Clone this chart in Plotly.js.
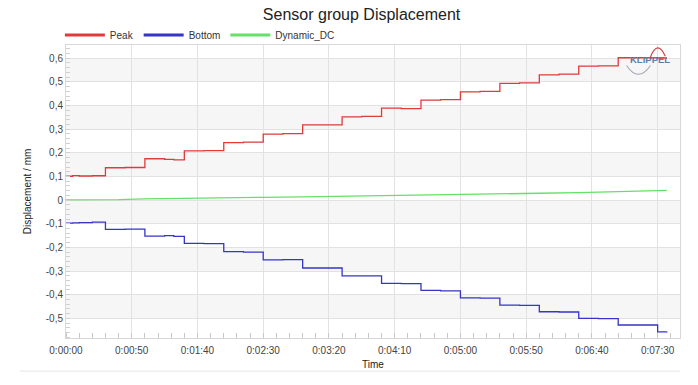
<!DOCTYPE html>
<html>
<head>
<meta charset="utf-8">
<script src="https://cdn.plot.ly/plotly-3.0.1.min.js"></script>
<style>html,body{margin:0;padding:0;background:#fff;}#chart{width:698px;height:385px;}</style>
</head>
<body>
<div id="chart"></div>
<script>
// ---- data (time in seconds, displacement in mm) ----
var stepTime = [0, 5, 10, 20, 30, 45, 60, 75, 82, 90, 105, 120, 135, 150, 165, 180, 195, 210, 225, 240, 255, 270, 285, 300, 315, 330, 345, 360, 375, 390, 405, 420, 435, 450, 457];
var peakValues = [0.101, 0.104, 0.102, 0.103, 0.137, 0.138, 0.175, 0.172, 0.170, 0.208, 0.209, 0.243, 0.245, 0.279, 0.281, 0.318, 0.318, 0.352, 0.354, 0.389, 0.387, 0.423, 0.425, 0.458, 0.460, 0.494, 0.496, 0.530, 0.533, 0.567, 0.568, 0.602, 0.602, 0.601, 0.601];
var bottomValues = [-0.097, -0.096, -0.095, -0.093, -0.124, -0.123, -0.152, -0.150, -0.153, -0.183, -0.184, -0.218, -0.220, -0.253, -0.252, -0.287, -0.287, -0.320, -0.320, -0.352, -0.353, -0.382, -0.384, -0.413, -0.414, -0.444, -0.445, -0.472, -0.473, -0.500, -0.501, -0.528, -0.528, -0.557, -0.556];
var dcTime = [0, 20, 40, 60, 80, 100, 120, 150, 180, 210, 240, 270, 300, 330, 360, 390, 420, 450, 457];
var dcValues = [0.001, 0.000, 0.002, 0.005, 0.007, 0.010, 0.011, 0.012, 0.014, 0.016, 0.018, 0.020, 0.023, 0.026, 0.029, 0.032, 0.035, 0.038, 0.041];

var seriesNames = ['Peak', 'Bottom', 'Dynamic_DC'];
var seriesColors = ['#e03a3a', '#3535c8', '#66e066'];

var xTickVals = [0, 50, 100, 150, 200, 250, 300, 350, 400, 450];
var xTickText = ['0:00:00', '0:00:50', '0:01:40', '0:02:30', '0:03:20', '0:04:10', '0:05:00', '0:05:50', '0:06:40', '0:07:30'];
var yTickVals = [-0.5, -0.4, -0.3, -0.2, -0.1, 0, 0.1, 0.2, 0.3, 0.4, 0.5, 0.6];
var yTickText = ['-0,5', '-0,4', '-0,3', '-0,2', '-0,1', '0', '0,1', '0,2', '0,3', '0,4', '0,5', '0,6'];
var shadedBands = [[0.5, 0.6], [0.3, 0.4], [0.1, 0.2], [-0.1, 0], [-0.3, -0.2], [-0.5, -0.4]];

var traces = [
  {x: stepTime, y: peakValues, name: seriesNames[0], legendgroup: 'g0', showlegend: false, type: 'scatter', mode: 'lines',
   line: {color: seriesColors[0], width: 1.3, shape: 'hv'}},
  {x: stepTime, y: bottomValues, name: seriesNames[1], legendgroup: 'g1', showlegend: false, type: 'scatter', mode: 'lines',
   line: {color: seriesColors[1], width: 1.3, shape: 'hv'}},
  {x: dcTime, y: dcValues, name: seriesNames[2], legendgroup: 'g2', showlegend: false, type: 'scatter', mode: 'lines',
   line: {color: seriesColors[2], width: 1.3}}
];
// legend entries (thicker sample lines, no data)
seriesNames.forEach(function (n, i) {
  traces.push({x: [null], y: [null], name: n, legendgroup: 'g' + i, showlegend: true, type: 'scatter', mode: 'lines',
               line: {color: seriesColors[i], width: 3}});
});

var shapes = shadedBands.map(function (b) {
  return {type: 'rect', xref: 'paper', yref: 'y', x0: 0, x1: 1, y0: b[0], y1: b[1],
          fillcolor: '#f6f6f6', line: {width: 0}, layer: 'below'};
});
shapes.push({type: 'line', xref: 'paper', yref: 'paper', x0: -0.075, x1: 1, y0: -0.113, y1: -0.113,
             line: {color: '#e6e6e6', width: 1}});
// KLIPPEL logo arcs
shapes.push({type: 'path', xref: 'paper', yref: 'paper',
             path: 'M 0.951 0.955 Q 0.963 1.022 0.976 0.962', line: {color: '#d04545', width: 1.2}});
shapes.push({type: 'path', xref: 'paper', yref: 'paper',
             path: 'M 0.913 0.93 Q 0.932 0.87 0.952 0.93', line: {color: '#a0a8b2', width: 1.1}});

var layout = {
  width: 698, height: 385,
  margin: {l: 66, r: 18, t: 45, b: 47},
  paper_bgcolor: '#ffffff', plot_bgcolor: '#ffffff',
  font: {family: 'Liberation Sans, Arial, sans-serif', size: 10, color: '#444'},
  title: {text: 'Sensor group Displacement', font: {size: 16, color: '#222'},
          x: 0.518, xref: 'container', xanchor: 'center', y: 0.962, yref: 'container', yanchor: 'middle'},
  showlegend: true,
  legend: {orientation: 'h', x: -0.01, xanchor: 'left', y: 0.985, yanchor: 'bottom',
           font: {size: 10, color: '#333'}, bgcolor: 'rgba(0,0,0,0)', itemwidth: 40, tracegroupgap: 0},
  xaxis: {range: [0, 467], tickmode: 'array', tickvals: xTickVals, ticktext: xTickText,
          showgrid: true, gridcolor: '#e2e2e2', gridwidth: 1, zeroline: false,
          showline: true, linecolor: '#d8d8d8', mirror: true, ticks: '', tickfont: {size: 10, color: '#444'},
          ticklabelstandoff: 3,
          minor: {dtick: 10, tick0: 0, ticks: 'inside', ticklen: 5, tickcolor: '#c8c8c8', showgrid: false},
          title: {text: 'Time', font: {size: 10, color: '#222'}, standoff: 5}},
  yaxis: {range: [-0.583, 0.656], tickmode: 'array', tickvals: yTickVals, ticktext: yTickText,
          showgrid: true, gridcolor: '#e2e2e2', gridwidth: 1, zeroline: false,
          showline: true, linecolor: '#d8d8d8', mirror: true, ticks: '', tickfont: {size: 10, color: '#444'},
          minor: {dtick: 0.02, tick0: 0, ticks: 'inside', ticklen: 4, tickcolor: '#d0d0d0', showgrid: false},
          title: {text: 'Displacement / mm', font: {size: 10, color: '#222'}, standoff: 12}},
  shapes: shapes,
  annotations: [{text: '<b>KLIPPEL</b>', xref: 'paper', yref: 'paper', x: 0.951, y: 0.949,
                 showarrow: false, font: {size: 9.5, color: '#5b7fa6'}, xanchor: 'center', yanchor: 'middle'}]
};

Plotly.newPlot('chart', traces, layout, {displayModeBar: false, staticPlot: true});
</script>
</body>
</html>
